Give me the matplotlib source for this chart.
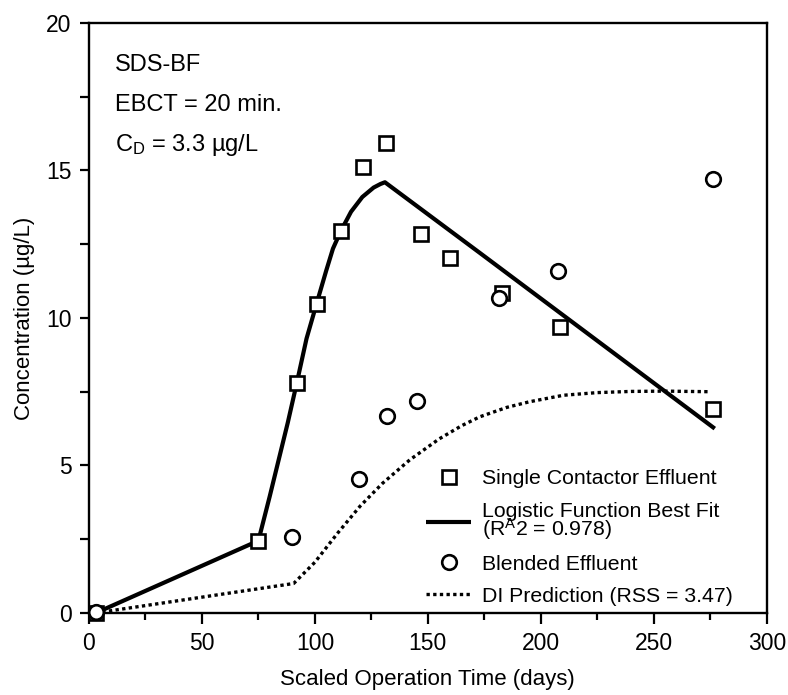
import matplotlib
matplotlib.use('Agg')
import matplotlib.pyplot as plt
from matplotlib.ticker import MultipleLocator

plt.rcParams['font.family'] = ['Liberation Sans', 'DejaVu Sans']
plt.rcParams['mathtext.fontset'] = 'custom'
plt.rcParams['mathtext.rm'] = 'Liberation Sans'
plt.rcParams['mathtext.it'] = 'Liberation Sans:italic'

# Single contactor effluent (squares)
single_t = [3, 75, 92, 101, 111.5, 121.3, 131.3, 146.8, 160, 182.8, 208.5, 276.4]
single_c = [0.0, 2.43, 7.79, 10.47, 12.96, 15.13, 15.92, 12.84, 12.04, 10.84, 9.7, 6.9]

# Blended effluent (circles)
blend_t = [3, 90, 119.6, 131.9, 145.2, 181.3, 207.6, 276]
blend_c = [0.05, 2.57, 4.53, 6.68, 7.19, 10.67, 11.6, 14.7]

# Logistic function best fit (solid line)
fit_t = [3, 75, 80, 84, 88, 92, 96.3, 101, 105, 108, 111.5, 116, 121, 126, 129, 131, 173.1, 277]
fit_c = [0.0, 2.45, 3.95, 5.2, 6.45, 7.8, 9.3, 10.55, 11.6, 12.35, 12.95, 13.6, 14.1, 14.42, 14.54, 14.6, 12.2, 6.25]

# DI prediction (dotted line)
di_t = [3, 90.6, 100, 110, 120, 130, 142, 155, 165, 173, 185, 195, 210, 225, 240, 255, 275]
di_c = [0.0, 1.0, 1.72, 2.7, 3.62, 4.4, 5.19, 5.9, 6.35, 6.65, 6.97, 7.16, 7.38, 7.47, 7.51, 7.52, 7.5]

fig = plt.figure(figsize=(7.88, 6.95), dpi=100)
ax = fig.add_axes([0.1129, 0.118, 0.8601, 0.849])

ax.plot(fit_t, fit_c, color='black', lw=3.0, solid_capstyle='butt', solid_joinstyle='round',
        label='Logistic Function Best Fit\n(R$^{\\mathrm{A}}$2 = 0.978)', zorder=2)
ax.plot(di_t, di_c, color='black', lw=2.4, linestyle=(0, (1, 1)),
        label='DI Prediction (RSS = 3.47)', zorder=2)
ax.plot(single_t, single_c, 's', ms=9.5, mfc='white', mec='black', mew=1.9,
        label='Single Contactor Effluent', zorder=3, clip_on=False)
ax.plot(blend_t, blend_c, 'o', ms=10.5, mfc='white', mec='black', mew=1.9,
        label='Blended Effluent', zorder=4, clip_on=False)

ax.set_xlim(0, 300)
ax.set_ylim(0, 20)
ax.xaxis.set_major_locator(MultipleLocator(50))
ax.xaxis.set_minor_locator(MultipleLocator(25))
ax.yaxis.set_major_locator(MultipleLocator(5))
ax.yaxis.set_minor_locator(MultipleLocator(2.5))
ax.tick_params(which='both', direction='out', width=1.6, labelsize=16.5, top=False, right=False)
ax.tick_params(axis='x', which='major', length=8, pad=6)
ax.tick_params(axis='x', which='minor', length=5)
ax.tick_params(axis='y', which='both', length=6.5, pad=6)
for s in ax.spines.values():
    s.set_linewidth(1.7)

ax.set_xlabel('Scaled Operation Time (days)', fontsize=16, labelpad=10)
ax.set_ylabel('Concentration (\u00b5g/L)', fontsize=16, labelpad=8)

ax.text(11.5, 18.37, 'SDS-BF', fontsize=17)
ax.text(11.5, 17.02, 'EBCT = 20 min.', fontsize=17)
ax.text(11.5, 15.66, 'C$_{\\mathrm{D}}$ = 3.3 \u00b5g/L', fontsize=17)

h, l = ax.get_legend_handles_labels()
order = [2, 0, 3, 1]
leg = ax.legend([h[i] for i in order], [l[i] for i in order], loc='lower left',
                bbox_to_anchor=(0.497, 0.012), frameon=False, fontsize=15.3,
                handlelength=2.15, handletextpad=0.5, labelspacing=0.62,
                borderpad=0, borderaxespad=0)
for t in leg.get_texts():
    t.set_linespacing(0.75)

fig.savefig('out.png', dpi=100)
